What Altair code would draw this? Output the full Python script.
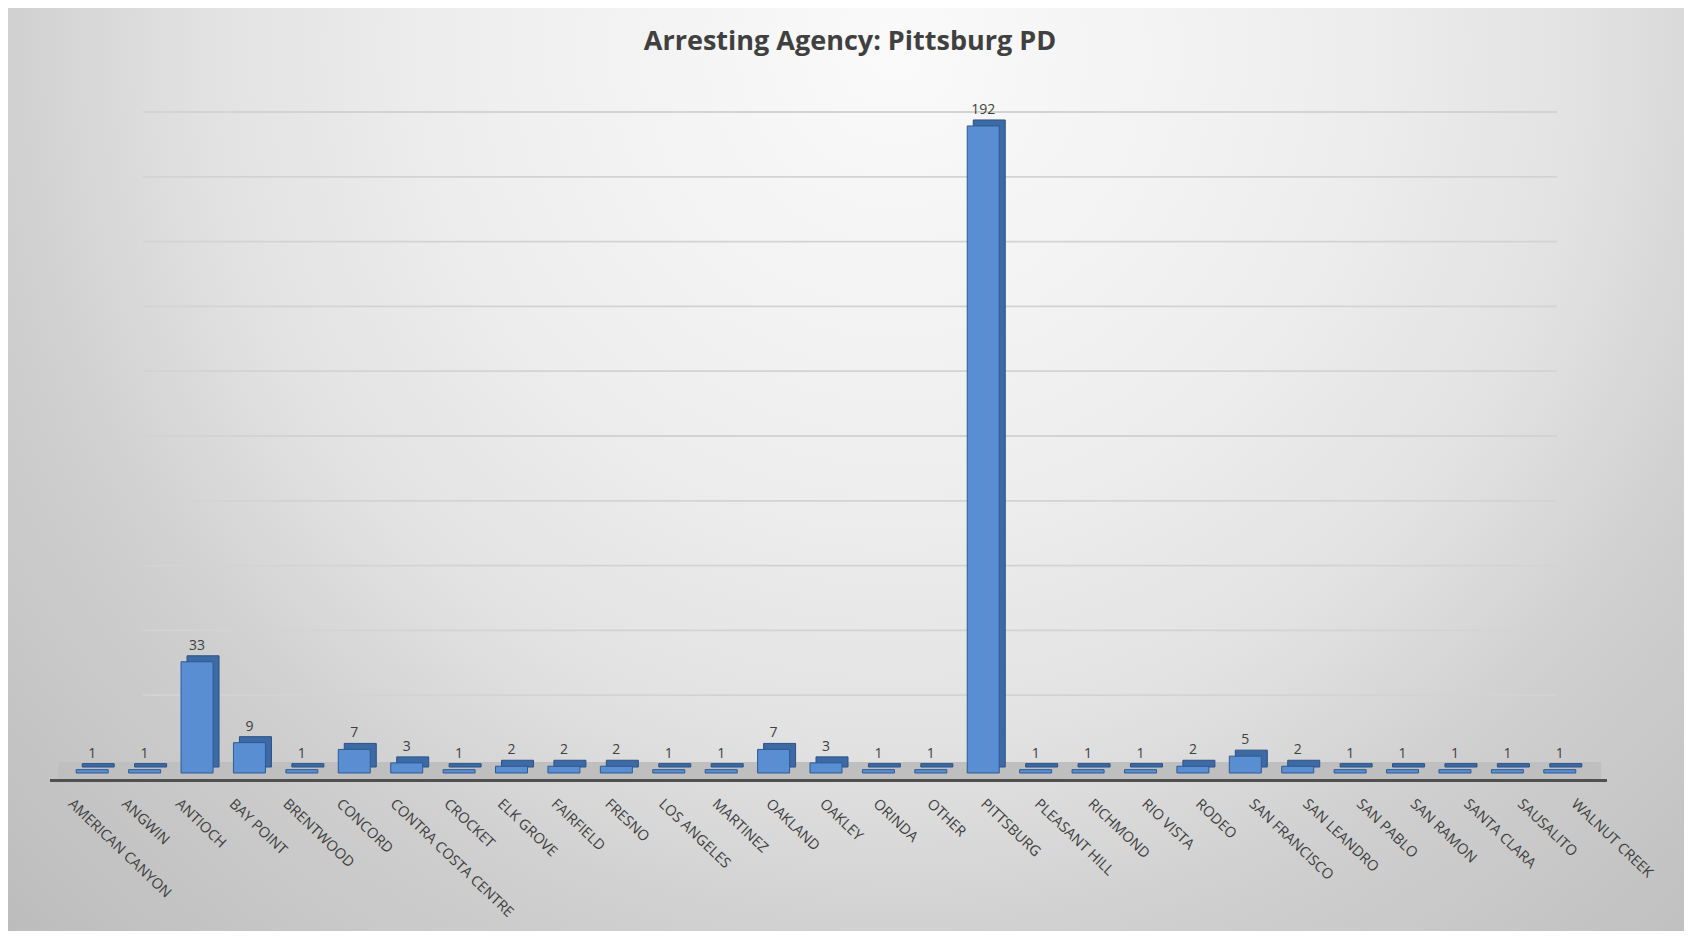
import altair as alt
import pandas as pd

categories = ["AMERICAN CANYON", "ANGWIN", "ANTIOCH", "BAY POINT", "BRENTWOOD", "CONCORD",
              "CONTRA COSTA CENTRE", "CROCKET", "ELK GROVE", "FAIRFIELD", "FRESNO",
              "LOS ANGELES", "MARTINEZ", "OAKLAND", "OAKLEY", "ORINDA", "OTHER", "PITTSBURG",
              "PLEASANT HILL", "RICHMOND", "RIO VISTA", "RODEO", "SAN FRANCISCO",
              "SAN LEANDRO", "SAN PABLO", "SAN RAMON", "SANTA CLARA", "SAUSALITO", "WALNUT CREEK"]
counts = [1, 1, 33, 9, 1, 7, 3, 1, 2, 2, 2, 1, 1, 7, 3, 1, 1, 192, 1, 1, 1, 2, 5, 2, 1, 1, 1, 1, 1]
grid_values = [20, 40, 60, 80, 100, 120, 140, 160, 180, 200]

TITLE = "Arresting Agency: Pittsburg PD"
FONT = "Open Sans"
TEXT_COLOR = "#404040"

W, H = 1520, 674
PAD = {"left": 58, "top": 91, "right": 98, "bottom": 158}

df = pd.DataFrame({"category": categories, "count": counts})
one = pd.DataFrame({"k": [0]})

bg_gradient = {
    "gradient": "radial",
    "x1": 0.53, "y1": 0.25, "r1": 0,
    "x2": 0.53, "y2": 0.25, "r2": 0.75,
    "stops": [
        {"offset": 0, "color": "#fafafa"},
        {"offset": 0.35, "color": "#eeeeee"},
        {"offset": 0.55, "color": "#e2e2e2"},
        {"offset": 0.72, "color": "#cfcfcf"},
        {"offset": 1, "color": "#bcbcbc"},
    ],
}

bg = alt.Chart(one).mark_rect(fill=bg_gradient, strokeWidth=0).encode(
    x=alt.value(-PAD["left"]), x2=alt.value(W + PAD["right"]),
    y=alt.value(-PAD["top"]), y2=alt.value(H + PAD["bottom"]),
)

grid = alt.Chart(pd.DataFrame({"g": grid_values})).mark_rule(
    color="#d3d3d3", strokeWidth=1.8
).encode(
    y=alt.Y("g:Q", scale=alt.Scale(domain=[0, 200], range=[661, 13]), axis=None),
    x=alt.value(77), x2=alt.value(1491),
)

floor = alt.Chart(one).mark_rect(color="#bfbfbf").encode(
    x=alt.value(-8), x2=alt.value(1535), y=alt.value(H - 11), y2=alt.value(H + 6)
)
front_line = alt.Chart(one).mark_rect(color="#505050").encode(
    x=alt.value(-16), x2=alt.value(1541), y=alt.value(H + 6), y2=alt.value(H + 9)
)

x_band = alt.X("category:N", sort=categories,
               scale=alt.Scale(domain=categories, paddingInner=0, paddingOuter=0), axis=None)
y_q = alt.Y("count:Q", scale=alt.Scale(domain=[0, 200]), axis=None)

base = alt.Chart(df)
back = base.mark_bar(size=32, color="#3d6aa4", stroke="#2b5288", strokeWidth=1,
                     xOffset=6, x2Offset=6, yOffset=-6, y2Offset=-6).encode(x=x_band, y=y_q)
front = base.mark_bar(size=32, color="#5a8ed2", stroke="#2f5a92", strokeWidth=1).encode(
    x=x_band, y=y_q)

values = base.mark_text(font=FONT, fontSize=14, color=TEXT_COLOR, dy=-12,
                        baseline="alphabetic").encode(x=x_band, y=y_q, text="count:Q")

cat_labels = base.mark_text(font=FONT, fontSize=14.5, color=TEXT_COLOR, angle=43.6,
                            align="left", baseline="top").encode(
    x=alt.X("category:N", sort=categories,
            scale=alt.Scale(type="point", domain=categories, range=[9, 1512], padding=0),
            axis=None),
    y=alt.value(H + 24),
    text="category:N",
)

title = alt.Chart(pd.DataFrame({"t": [TITLE]})).mark_text(
    font=FONT, fontSize=27, fontWeight="bold", color=TEXT_COLOR,
    align="center", baseline="alphabetic",
).encode(x=alt.value(784), y=alt.value(-49), text="t:N")

chart = alt.layer(bg, grid, floor, front_line, back, front, values, cat_labels, title).resolve_scale(
    x="independent", y="independent"
).properties(
    width=W, height=H,
    padding=PAD,
    autosize=alt.AutoSizeParams(type="none"),
    background="white",
).configure_view(strokeWidth=0)

chart.save("out.html", embed_options={"renderer": "svg", "actions": False})
